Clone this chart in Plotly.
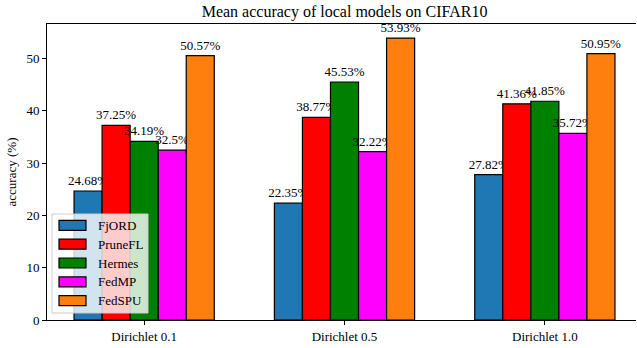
import plotly.graph_objects as go

categories = ["Dirichlet 0.1", "Dirichlet 0.5", "Dirichlet 1.0"]
series_names = ["FjORD", "PruneFL", "Hermes", "FedMP", "FedSPU"]
fjord = [24.68, 22.35, 27.82]
prunefl = [37.25, 38.77, 41.36]
hermes = [34.19, 45.53, 41.85]
fedmp = [32.5, 32.22, 35.72]
fedspu = [50.57, 53.93, 50.95]
values = [fjord, prunefl, hermes, fedmp, fedspu]
colors = ["#1f77b4", "#ff0000", "#008000", "#ff00ff", "#ff7f0e"]

FONT = "Liberation Serif"
W, H = 637, 348
L, R, T, B = 47, 1, 24, 28
PW, PH = W - L - R, H - T - B


def px(x):
    return (x - L) / PW


def py(y):
    return (H - B - y) / PH


fig = go.Figure()
for name, vals, col in zip(series_names, values, colors):
    fig.add_trace(go.Bar(
        name=name, x=list(range(len(categories))), y=vals,
        marker=dict(color=col, line=dict(color="black", width=1.2)),
        text=[f"{v:g}%" for v in vals], textposition="outside",
        constraintext="none", cliponaxis=False,
        textfont=dict(family=FONT, size=13, color="black"),
        width=0.14, showlegend=False,
    ))

# legend (matplotlib style, lower left)
shapes = [dict(type="rect", xref="paper", yref="paper",
               x0=px(52), x1=px(148), y0=py(313), y1=py(214),
               fillcolor="rgba(255,255,255,0.8)", line=dict(color="#cccccc", width=1),
               layer="above")]
annotations = []
for i, (name, col) in enumerate(zip(series_names, colors)):
    cy = 225.3 + 18.85 * i
    shapes.append(dict(type="rect", xref="paper", yref="paper",
                       x0=px(59), x1=px(86), y0=py(cy + 5), y1=py(cy - 5),
                       fillcolor=col, line=dict(color="black", width=1.2), layer="above"))
    annotations.append(dict(xref="paper", yref="paper", x=px(96), y=py(cy),
                            xanchor="left", yanchor="middle", text=name, showarrow=False,
                            font=dict(family=FONT, size=13, color="black")))

fig.update_layout(
    width=W, height=H,
    margin=dict(l=L, r=R, t=T, b=B),
    barmode="group", bargap=0.3, bargroupgap=0,
    plot_bgcolor="white", paper_bgcolor="white",
    font=dict(family=FONT, size=13, color="black"),
    title=dict(text="Mean accuracy of local models on CIFAR10", x=0.541, xanchor="center",
               xref="container", y=0.967, yanchor="middle", yref="container",
               font=dict(family=FONT, size=16, color="black")),
    showlegend=False,
    shapes=shapes, annotations=annotations,
)
fig.update_xaxes(
    range=[-0.485, 2.455], tickvals=list(range(len(categories))), ticktext=categories,
    showline=True, linecolor="black", linewidth=1, mirror=True,
    ticks="outside", ticklen=4, tickcolor="black", showgrid=False, zeroline=False,
    tickfont=dict(family=FONT, size=13),
)
fig.update_yaxes(
    range=[0, 56.63], tickvals=[0, 10, 20, 30, 40, 50],
    showline=True, linecolor="black", linewidth=1, mirror=False,
    ticks="outside", ticklen=4, tickcolor="black", showgrid=False, zeroline=False,
    title=dict(text="accuracy (%)", font=dict(family=FONT, size=13), standoff=6),
    tickfont=dict(family=FONT, size=13),
)
fig.write_html("out.html", config={"displayModeBar": False},
               post_script="document.body.style.margin='0';")
